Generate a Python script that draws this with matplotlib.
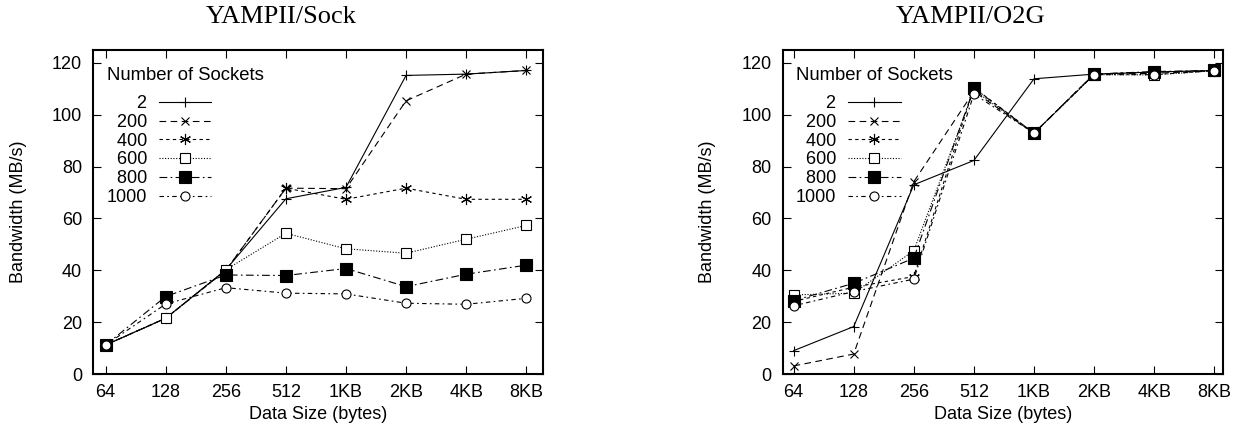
import matplotlib
matplotlib.use("Agg")
import matplotlib.pyplot as plt

plt.rcParams['font.family'] = ['Liberation Sans', 'DejaVu Sans']

sizes = ["64", "128", "256", "512", "1KB", "2KB", "4KB", "8KB"]
sockets = ["2", "200", "400", "600", "800", "1000"]

# YAMPII/Sock
sock_2 = [11.2, 21.5, 40.2, 67.6, 72.0, 115.2, 115.7, 117.1]
sock_200 = [11.2, 21.5, 40.0, 71.7, 71.5, 105.4, 115.7, 117.1]
sock_400 = [11.2, 21.5, 40.0, 71.7, 67.4, 71.7, 67.4, 67.4]
sock_600 = [11.2, 21.5, 40.2, 54.3, 48.3, 46.6, 52.0, 57.3]
sock_800 = [11.2, 29.9, 38.2, 38.0, 40.7, 33.7, 38.5, 42.0]
sock_1000 = [11.2, 27.0, 33.3, 31.2, 30.9, 27.3, 26.9, 29.2]

# YAMPII/O2G
o2g_2 = [9.0, 18.3, 73.0, 82.4, 113.9, 115.7, 116.5, 117.1]
o2g_200 = [3.1, 7.7, 74.2, 109.0, 92.9, 115.7, 116.0, 117.0]
o2g_400 = [28.0, 33.5, 37.6, 110.5, 92.9, 115.7, 116.5, 117.0]
o2g_600 = [30.5, 31.2, 47.6, 109.5, 92.9, 115.5, 115.4, 117.0]
o2g_800 = [28.3, 35.0, 44.7, 110.3, 92.9, 115.7, 116.7, 117.1]
o2g_1000 = [26.3, 31.8, 36.6, 108.0, 92.9, 115.5, 115.5, 117.0]

styles = [
    dict(ls='-', marker='+', ms=7.5, mfc='black'),
    dict(ls=(0, (6, 4)), marker='x', ms=6, mfc='black'),
    dict(ls=(0, (3, 3)), marker=(6, 2, 0), ms=8, mfc='black'),
    dict(ls=(0, (1, 1.5)), marker='s', ms=6.5, mfc='white'),
    dict(ls=(0, (7, 3, 1.5, 3)), marker='s', ms=8, mfc='black'),
    dict(ls=(0, (4, 3, 1.5, 3)), marker='o', ms=6.5, mfc='white'),
]

fig = plt.figure(figsize=(12.37, 4.36), dpi=100)
ax1 = fig.add_axes([0.0752, 0.1422, 0.3638, 0.7431])
ax2 = fig.add_axes([0.6328, 0.1422, 0.3557, 0.7431])

def draw(ax, series, xlim):
    x = list(range(len(sizes)))
    for name, ys, st in zip(sockets, series, styles):
        # digits are twice as wide as a space, so this right-aligns the labels
        pad = '  ' * (4 - len(name))
        ax.plot(x, ys, color='black', lw=0.8, ls=st['ls'], marker=st['marker'],
                ms=st['ms'], mfc=st['mfc'], mec='black', mew=0.8, label=pad + name)
    ax.set_xlim(*xlim)
    ax.set_ylim(0, 125)
    ax.set_xticks(x)
    ax.set_xticklabels(sizes)
    ax.set_yticks(range(0, 121, 20))
    ax.tick_params(direction='in', top=True, right=True, length=6, width=0.8,
                   labelsize=13)
    ax.tick_params(axis='y', pad=8)
    ax.tick_params(axis='x', pad=7)
    for s in ax.spines.values():
        s.set_linewidth(1.5)
    ax.set_xlabel('Data Size (bytes)', fontsize=13, labelpad=4)
    ax.set_ylabel('Bandwidth (MB/s)', fontsize=13, labelpad=18)
    ax.text(0.03, 0.921, 'Number of Sockets', transform=ax.transAxes,
            fontsize=13.3, ha='left', va='center')
    ax.legend(loc='upper left', bbox_to_anchor=(0.03, 0.861),
              frameon=False, markerfirst=False, fontsize=13,
              handlelength=2.9, handletextpad=0.66,
              labelspacing=0.1, borderpad=0, borderaxespad=0)

draw(ax1, [sock_2, sock_200, sock_400, sock_600, sock_800, sock_1000], (-0.21, 7.28))
draw(ax2, [o2g_2, o2g_200, o2g_400, o2g_600, o2g_800, o2g_1000], (-0.18, 7.14))

fig.text(0.2276, 0.962, 'YAMPII/Sock', ha='center', va='center', fontsize=19,
         family='Liberation Serif')
fig.text(0.7846, 0.962, 'YAMPII/O2G', ha='center', va='center', fontsize=19,
         family='Liberation Serif')

fig.savefig('out.png', dpi=100)
